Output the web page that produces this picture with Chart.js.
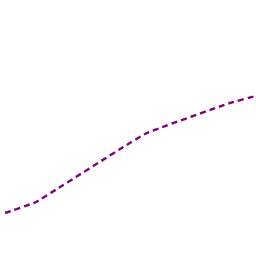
<!DOCTYPE html>
<html>
<head>
<meta charset="utf-8">
<script src="https://cdn.jsdelivr.net/npm/chart.js@4"></script>
<style>
  html, body { margin: 0; padding: 0; background: #fff; overflow: hidden; }
</style>
</head>
<body>
<canvas id="lineChart" width="256" height="256"></canvas>
<script>
// values (x position, height)
const xValues = [5, 36, 145, 230, 256];
const yValues = [43, 54, 122, 153, 160];

const points = xValues.map((x, i) => ({ x: x, y: yValues[i] }));

const ctx = document.getElementById('lineChart').getContext('2d');
new Chart(ctx, {
    type: 'line',
    data: {
        datasets: [{
            data: points,
            borderColor: '#800080',
            borderWidth: 2.4,
            borderDash: [6, 4],
            pointRadius: 0,
            tension: 0.1,
            fill: false
        }]
    },
    options: {
        responsive: false,
        animation: false,
        maintainAspectRatio: false,
        layout: { padding: 0 },
        plugins: { legend: { display: false }, tooltip: { enabled: false } },
        scales: {
            x: { type: 'linear', min: 0, max: 256, display: false },
            y: { min: 0, max: 256, display: false }
        }
    }
});
</script>
</body>
</html>
